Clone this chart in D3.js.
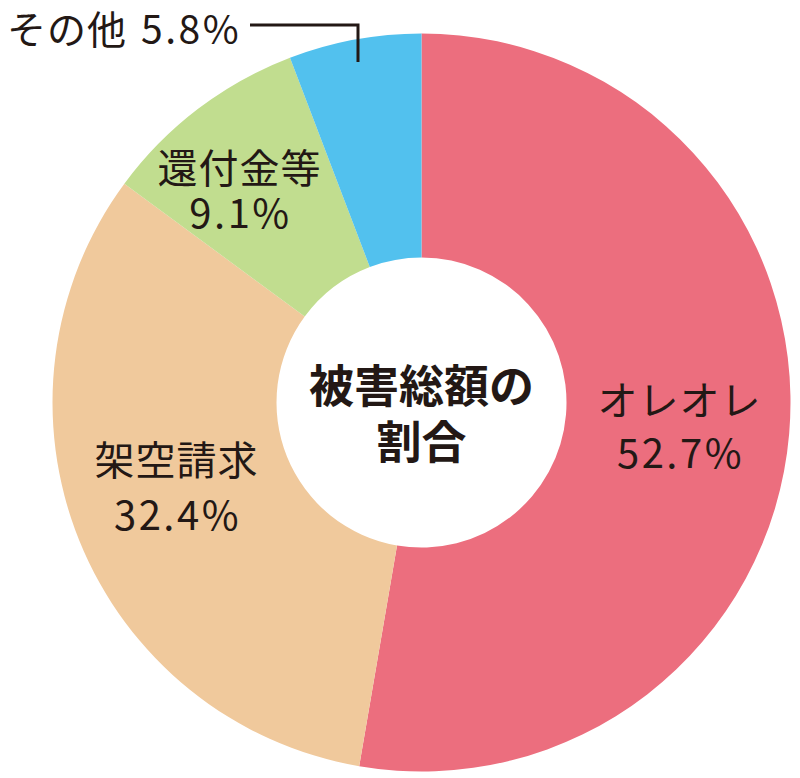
<!DOCTYPE html>
<html><head><meta charset="utf-8">
<script src="https://cdn.jsdelivr.net/npm/d3@7"></script>
<style>html,body{margin:0;padding:0;background:#fff;}svg{display:block;}</style>
</head><body>
<svg id="c" width="800" height="778"></svg>
<script>
const categories = ["オレオレ", "架空請求", "還付金等", "その他"];
const values = [52.7, 32.4, 9.1, 5.8];
const colors = ["#EC6E7E", "#F0C99C", "#C1DD8F", "#52C1EE"];
const centerTitle = ["被害総額の", "割合"];

const svg = d3.select("#c");
const cx = 421.5, cy = 402.5, R = 369, r = 145;
const g = svg.append("g").attr("transform", `translate(${cx},${cy})`);
const pie = d3.pie().sort(null).value(d => d)(values);
const arc = d3.arc().innerRadius(r).outerRadius(R);
g.selectAll("path").data(pie).join("path")
  .attr("d", arc).attr("fill", (d, i) => colors[i]);

const font = "'Noto Sans CJK JP', 'Noto Sans', sans-serif";
const ink = "#231815";
const labelPos = [
  {x: 258, y1: 12, y2: 65},
  {x: -245, y1: 72, y2: 127},
  {x: -182, y1: -220, y2: -175}
];
labelPos.forEach((p, i) => {
  const t = g.append("g").attr("font-family", font).attr("font-size", 40)
    .attr("fill", ink).attr("text-anchor", "middle");
  t.append("text").attr("x", p.x).attr("y", p.y1).attr("letter-spacing", 1).text(categories[i]);
  t.append("text").attr("x", p.x + 1).attr("y", p.y2).attr("letter-spacing", 2.5)
    .text(values[i].toFixed(1) + "%");
});

// その他 label with leader
const ot = svg.append("text").attr("y", 44)
  .attr("font-family", font).attr("font-size", 39).attr("fill", ink);
ot.append("tspan").attr("x", 7).attr("letter-spacing", 1).text(categories[3]);
ot.append("tspan").attr("x", 141).attr("letter-spacing", 2.5).text(values[3].toFixed(1) + "%");
svg.append("path").attr("d", "M250,25H358V62")
  .attr("fill", "none").attr("stroke", ink).attr("stroke-width", 3);

// center
const ct = g.append("g").attr("font-family", font).attr("font-weight", 700)
  .attr("font-size", 45).attr("fill", ink).attr("text-anchor", "middle");
ct.append("text").attr("x", 0).attr("y", 0).text(centerTitle[0]);
ct.append("text").attr("x", 0).attr("y", 56).text(centerTitle[1]);
</script>
</body></html>
